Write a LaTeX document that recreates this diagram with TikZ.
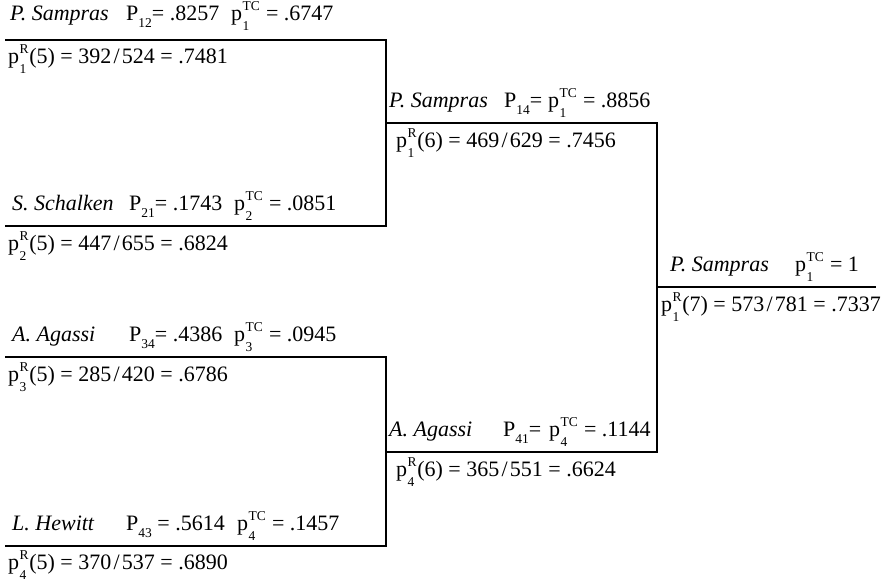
\documentclass[tikz,border=0pt]{standalone}
\usepackage{fontspec}
\setmainfont{Liberation Serif}
% script size used for indices
\newcommand{\scr}{\fontsize{13.5}{14}\selectfont}
% p with stacked subscript (#1) and superscript (#2)
\newcommand{\pp}[2]{p\kern0.02em\sbox0{\scr #1}\sbox2{\scr #2}%
  \rlap{\raisebox{-0.46em}{\usebox0}}\raisebox{0.42em}{\usebox2}%
  \ifdim\wd0>\wd2 \kern\dimexpr\wd0-\wd2\relax\fi\kern0.03em\relax}
% capital P with subscript
\newcommand{\PP}[1]{P\raisebox{-0.36em}{\scr #1}}
% ratio with a slightly spaced slash
\newcommand{\frc}[2]{#1\kern0.1em/\kern0.1em\relax#2}
\begin{document}
\begin{tikzpicture}[x=1pt,y=-1pt,
  txt/.style={anchor=base west, inner sep=0pt, font=\fontsize{22}{26}\selectfont},
  bracket/.style={line width=1.1pt}]
\useasboundingbox (0,0) rectangle (893,584);

% ---- bracket corners ----
\coordinate (a1) at (5,40);    \coordinate (b1) at (386,40);
\coordinate (a2) at (5,226);   \coordinate (b2) at (386,226);
\coordinate (a3) at (5,357);   \coordinate (b3) at (386,357);
\coordinate (a4) at (5,546);   \coordinate (b4) at (386,546);
\coordinate (m1) at (386,123); \coordinate (c1) at (657,123);
\coordinate (m2) at (386,452); \coordinate (c2) at (657,452);
\coordinate (f0) at (657,287); \coordinate (f1) at (876,287);

\draw[bracket] (a1) -- (b1) -- (b2) -- (a2);
\draw[bracket] (a3) -- (b3) -- (b4) -- (a4);
\draw[bracket] (m1) -- (c1) -- (c2) -- (m2);
\draw[bracket] (f0) -- (f1);

% ---- first round ----
\node[txt] (n1) at (10,20)  {\textit{P. Sampras}};
\node[txt] (q1) at (126,20) {\PP{12}= .8257};
\node[txt] (t1) at (231,20) {\pp{1}{TC} = .6747};
\node[txt] (r1) at (8,63)   {\pp{1}{R}(5) = \frc{392}{524} = .7481};

\node[txt] (n2) at (12,210)  {\textit{S. Schalken}};
\node[txt] (q2) at (129,210) {\PP{21}= .1743};
\node[txt] (t2) at (234,210) {\pp{2}{TC} = .0851};
\node[txt] (r2) at (8,250)   {\pp{2}{R}(5) = \frc{447}{655} = .6824};

\node[txt] (n3) at (12,341)  {\textit{A. Agassi}};
\node[txt] (q3) at (129,341) {\PP{34}= .4386};
\node[txt] (t3) at (234,341) {\pp{3}{TC} = .0945};
\node[txt] (r3) at (8,381)   {\pp{3}{R}(5) = \frc{285}{420} = .6786};

\node[txt] (n4) at (12,530)  {\textit{L. Hewitt}};
\node[txt] (q4) at (126,530) {\PP{43} = .5614};
\node[txt] (t4) at (237,530) {\pp{4}{TC} = .1457};
\node[txt] (r4) at (8,569)   {\pp{4}{R}(5) = \frc{370}{537} = .6890};

% ---- semi-finals ----
\node[txt] (n5) at (389,107) {\textit{P. Sampras}};
\node[txt] (q5) at (504,107) {\PP{14}=};
\node[txt] (t5) at (548,107) {\pp{1}{TC} = .8856};
\node[txt] (r5) at (396,147) {\pp{1}{R}(6) = \frc{469}{629} = .7456};

\node[txt] (n6) at (389,436) {\textit{A. Agassi}};
\node[txt] (q6) at (503,436) {\PP{41}=};
\node[txt] (t6) at (549,436) {\pp{4}{TC} = .1144};
\node[txt] (r6) at (396,476) {\pp{4}{R}(6) = \frc{365}{551} = .6624};

% ---- final ----
\node[txt] (n7) at (670,271) {\textit{P. Sampras}};
\node[txt] (t7) at (795,271) {\pp{1}{TC} = 1};
\node[txt] (r7) at (661,311) {\pp{1}{R}(7) = \frc{573}{781} = .7337};
\end{tikzpicture}
\end{document}
